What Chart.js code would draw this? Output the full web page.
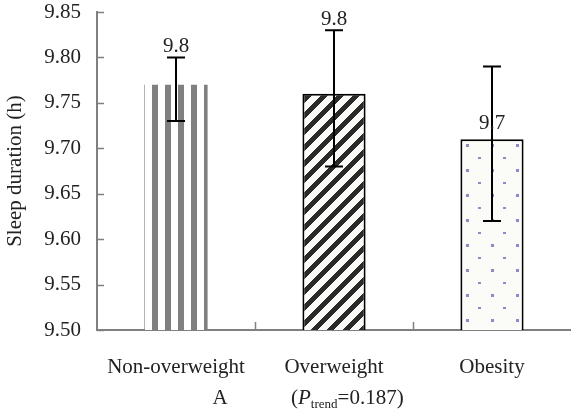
<!DOCTYPE html>
<html>
<head>
<meta charset="utf-8">
<script src="https://cdn.jsdelivr.net/npm/chart.js@4"></script>
<style>
  body { margin: 0; background: #fff; overflow: hidden; }
</style>
</head>
<body>
<canvas id="sleepChart" width="571" height="412"></canvas>
<script>
const categories = ["Non-overweight", "Overweight", "Obesity"];
const meanSleep = [9.77, 9.76, 9.71];
const errLow = [9.73, 9.68, 9.62];
const errHigh = [9.80, 9.83, 9.79];
const barLabels = ["9.8", "9.8", "9.7"];
const labelAnchor = ["err", "err", "bar"];
const yTicks = [9.50, 9.55, 9.60, 9.65, 9.70, 9.75, 9.80, 9.85];

const serif = '"Liberation Serif", "Times New Roman", serif';

function makeTile(w, h, paint) {
  const c = document.createElement("canvas");
  c.width = w;
  c.height = h;
  const g = c.getContext("2d");
  paint(g, w, h);
  return g.createPattern(c, "repeat");
}

// vertical grey stripes
const stripes = makeTile(13, 8, (g) => {
  g.fillStyle = "#fff";
  g.fillRect(0, 0, 13, 8);
  g.fillStyle = "#808080";
  g.fillRect(0, 0, 2, 8);
  g.fillRect(9, 0, 4, 8);
});

// dark diagonal bands "/"
const diagonal = makeTile(16, 16, (g, w, h) => {
  const img = g.createImageData(w, h);
  for (let y = 0; y < h; y++) {
    for (let x = 0; x < w; x++) {
      let i = (y * w + x) * 4;
      let dark = (x + y) % 16 < 7;
      let v = dark ? 0x2b : 0xfa;
      img.data[i] = v;
      img.data[i + 1] = v;
      img.data[i + 2] = dark ? v : 0xf6;
      img.data[i + 3] = 255;
    }
  }
  g.putImageData(img, 0, 0);
});

// small purple dots on off-white
const dots = makeTile(25, 25, (g) => {
  g.fillStyle = "#fbfbf7";
  g.fillRect(0, 0, 25, 25);
  g.fillStyle = "#8f89c9";
  g.fillRect(16, 19, 3, 3);
  g.fillRect(3, 7, 3, 2);
});

const errorBars = {
  id: "errorBars",
  afterDatasetsDraw(chart) {
    const ctx = chart.ctx;
    const x = chart.scales.x;
    const y = chart.scales.y;
    ctx.save();
    ctx.strokeStyle = "#000";
    ctx.lineWidth = 2;
    categories.forEach((c, i) => {
      let px = Math.round(x.getPixelForValue(i));
      let top = y.getPixelForValue(errHigh[i]);
      let bot = y.getPixelForValue(errLow[i]);
      ctx.beginPath();
      ctx.moveTo(px, top);
      ctx.lineTo(px, bot);
      ctx.moveTo(px - 9, top);
      ctx.lineTo(px + 9, top);
      ctx.moveTo(px - 9, bot);
      ctx.lineTo(px + 9, bot);
      ctx.stroke();
    });

    // value labels
    ctx.fillStyle = "#222";
    ctx.font = "21px " + serif;
    ctx.textAlign = "center";
    ctx.textBaseline = "alphabetic";
    categories.forEach((c, i) => {
      let px = x.getPixelForValue(i);
      let base =
        labelAnchor[i] === "err"
          ? y.getPixelForValue(errHigh[i]) - 5
          : y.getPixelForValue(meanSleep[i]) - 10;
      ctx.fillText(barLabels[i], px, base);
    });
    ctx.restore();
  },
  afterDraw(chart) {
    const ctx = chart.ctx;
    const x = chart.scales.x;
    const y = chart.scales.y;
    const area = chart.chartArea;
    ctx.save();
    ctx.strokeStyle = "#808080";
    ctx.lineWidth = 1.5;
    ctx.beginPath();
    yTicks.forEach((t) => {
      let py = Math.round(y.getPixelForValue(t)) + 0.5;
      ctx.moveTo(area.left, py);
      ctx.lineTo(area.left + 7, py);
    });
    for (let i = 0; i < categories.length - 1; i++) {
      let px = Math.round(x.getPixelForValue(i + 0.5)) + 0.5;
      ctx.moveTo(px, area.bottom);
      ctx.lineTo(px, area.bottom - 8);
    }
    ctx.stroke();

    // panel caption with subscript
    ctx.fillStyle = "#222";
    ctx.textBaseline = "alphabetic";
    ctx.textAlign = "center";
    ctx.font = "21px " + serif;
    let base = area.bottom + 74;
    ctx.fillText("A", area.left + 123, base);
    ctx.textAlign = "left";
    let cx = area.left + 194;
    ctx.fillText("(", cx, base);
    cx += ctx.measureText("(").width;
    ctx.font = "italic 21px " + serif;
    ctx.fillText("P", cx, base);
    cx += ctx.measureText("P").width;
    ctx.font = "13px " + serif;
    ctx.fillText("trend", cx, base + 4);
    cx += ctx.measureText("trend").width;
    ctx.font = "21px " + serif;
    ctx.fillText("=0.187)", cx, base);
    ctx.restore();
  },
};

new Chart(document.getElementById("sleepChart"), {
  type: "bar",
  data: {
    labels: categories,
    datasets: [
      {
        data: meanSleep,
        backgroundColor: [stripes, diagonal, dots],
        borderColor: ["rgba(0,0,0,0)", "#000", "#000"],
        borderWidth: [0, 2, 2],
        borderSkipped: false,
        barPercentage: 0.4,
        categoryPercentage: 1,
      },
    ],
  },
  options: {
    responsive: false,
    animation: false,
    layout: { padding: { top: 12, right: 0, left: 0, bottom: 0 } },
    plugins: {
      legend: { display: false },
      tooltip: { enabled: false },
    },
    scales: {
      x: {
        grid: { display: false },
        border: { display: true, color: "#808080", width: 2 },
        ticks: {
          color: "#222",
          padding: 17,
          font: { family: serif, size: 21 },
        },
        afterFit: (s) => {
          s.height = 82;
          s.paddingLeft = 0;
          s.paddingRight = 0;
        },
      },
      y: {
        min: 9.5,
        max: 9.85,
        grid: { drawOnChartArea: false, drawTicks: false },
        border: { display: true, color: "#808080", width: 2 },
        ticks: {
          stepSize: 0.05,
          padding: 16,
          color: "#222",
          font: { family: serif, size: 21 },
          callback: (v) => v.toFixed(2),
        },
        title: {
          display: true,
          text: "Sleep duration (h)",
          color: "#222",
          font: { family: serif, size: 21 },
          padding: { top: 3, bottom: 4 },
        },
        afterFit: (s) => {
          s.width = 97;
          s.paddingTop = 0;
          s.paddingBottom = 0;
        },
      },
    },
  },
  plugins: [errorBars],
});
</script>
</body>
</html>
